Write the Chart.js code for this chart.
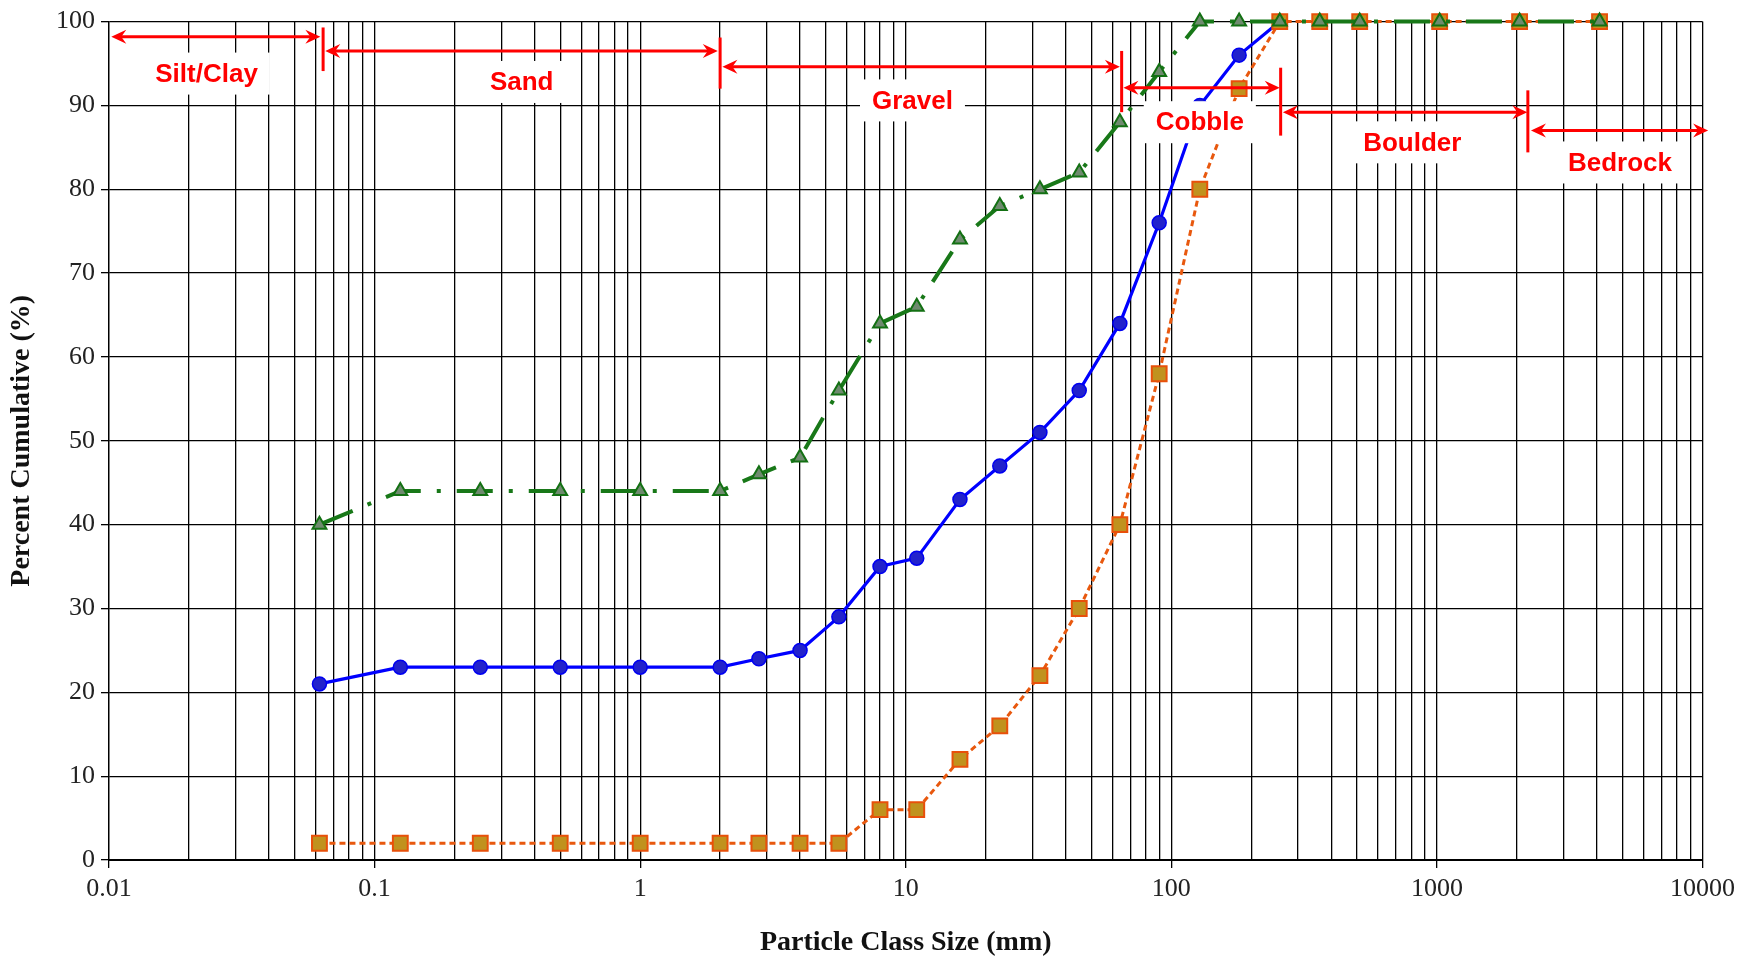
<!DOCTYPE html>
<html>
<head>
<meta charset="utf-8">
<script src="https://cdn.jsdelivr.net/npm/chart.js@4.4.1/dist/chart.umd.min.js"></script>
<style>
  html, body { margin: 0; padding: 0; background: #ffffff; }
  canvas { display: block; }
</style>
</head>
<body>
<canvas id="grain" width="1741" height="960"></canvas>
<script>
// Sieve class sizes (mm) and cumulative percent finer for each survey
const sizesMm = [0.062, 0.125, 0.25, 0.5, 1, 2, 2.8, 4, 5.6, 8, 11, 16, 22.6, 32, 45, 64, 90, 128, 180, 256, 362, 512, 1024, 2048, 4096];
const blueSeries   = [21, 23, 23, 23, 23, 23, 24, 25, 29, 35, 36, 43, 47, 51, 56, 64, 76, 90, 96, 100];
const greenSeries  = [40, 44, 44, 44, 44, 44, 46, 48, 56, 64, 66, 74, 78, 80, 82, 88, 94, 100, 100, 100, 100, 100, 100, 100, 100];
const orangeSeries = [2, 2, 2, 2, 2, 2, 2, 2, 2, 6, 6, 12, 16, 22, 30, 40, 58, 80, 92, 100, 100, 100, 100, 100, 100];

// Axis ticks
const xDecades = [0.01, 0.1, 1, 10, 100, 1000, 10000];
const xTickLabels = ['0.01', '0.1', '1', '10', '100', '1000', '10000'];
const yTickLabels = ['0', '10', '20', '30', '40', '50', '60', '70', '80', '90', '100'];

// Particle size classes: label anchor, arrow span and class boundaries (data units)
const classNames     = ['Silt/Clay', 'Sand', 'Gravel', 'Cobble', 'Boulder', 'Bedrock'];
const classLabelX    = [0.0233, 0.358, 10.6, 128, 808, 4890];
const classLabelY    = [93.8, 92.8, 90.6, 88.0, 85.6, 83.2];
const classArrowY    = [98.2, 96.5, 94.6, 92.1, 89.2, 87.0];
const classArrowFrom = [0.0102, 0.0652, 2.04, 66, 263, 2260];
const classArrowTo   = [0.0625, 1.96, 64, 256, 2190, 10500];
const boundaryX      = [0.064, 2.0, 65, 258, 2200];
const boundaryYLow   = [94.1, 92.0, 89.2, 86.4, 84.4];
const boundaryYHigh  = [99.3, 98.1, 96.5, 94.5, 91.8];

// Grid positions 1..9 x 10^n across the log axis
const gridValues = [];
for (let e = -2; e <= 3; e++) {
  for (let m = 1; m <= 9; m++) gridValues.push(Number((m * Math.pow(10, e)).toPrecision(6)));
}
gridValues.push(10000);

function decadeIndex(v) {
  return xDecades.findIndex(d => Math.abs(v - d) / d < 1e-6);
}

function toPoints(values) {
  return values.map((y, i) => ({ x: sizesMm[i], y }));
}

const RED = '#ff0000';

const sizeClassPlugin = {
  id: 'sizeClasses',
  afterDatasetsDraw(chart) {
    const { ctx, scales: { x: xs, y: ys } } = chart;
    ctx.save();

    // class labels on white plates
    ctx.font = 'bold 26px "Liberation Sans", Arial, sans-serif';
    ctx.textAlign = 'center';
    ctx.textBaseline = 'middle';
    classNames.forEach((name, i) => {
      const cx = xs.getPixelForValue(classLabelX[i]);
      const cy = ys.getPixelForValue(classLabelY[i]);
      const w = ctx.measureText(name).width + 24;
      const h = 42;
      ctx.fillStyle = '#ffffff';
      ctx.fillRect(cx - w / 2, cy - h / 2, w, h);
      ctx.fillStyle = RED;
      ctx.fillText(name, cx, cy + 1);
    });

    // double-headed arrows
    ctx.strokeStyle = RED;
    ctx.fillStyle = RED;
    ctx.lineWidth = 3;
    const head = (x, y, dir) => {
      const L = 15, W = 7, N = 5;
      ctx.beginPath();
      ctx.moveTo(x, y);
      ctx.lineTo(x - dir * L, y - W);
      ctx.lineTo(x - dir * (L - N), y);
      ctx.lineTo(x - dir * L, y + W);
      ctx.closePath();
      ctx.fill();
    };
    classNames.forEach((name, i) => {
      const x1 = xs.getPixelForValue(classArrowFrom[i]);
      const x2 = xs.getPixelForValue(classArrowTo[i]);
      const y = ys.getPixelForValue(classArrowY[i]);
      ctx.beginPath();
      ctx.moveTo(x1 + 8, y);
      ctx.lineTo(x2 - 8, y);
      ctx.stroke();
      head(x1, y, -1);
      head(x2, y, 1);
    });

    // class boundary bars
    boundaryX.forEach((bx, i) => {
      const px = xs.getPixelForValue(bx);
      ctx.beginPath();
      ctx.moveTo(px, ys.getPixelForValue(boundaryYLow[i]));
      ctx.lineTo(px, ys.getPixelForValue(boundaryYHigh[i]));
      ctx.stroke();
    });

    ctx.restore();
  }
};

const serif = '"Liberation Serif", "DejaVu Serif", "Times New Roman", serif';

new Chart(document.getElementById('grain'), {
  type: 'line',
  data: {
    datasets: [
      {
        label: 'Survey A',
        data: toPoints(greenSeries),
        borderColor: '#187818',
        borderWidth: 4,
        borderDash: [36, 16, 4, 16],
        pointStyle: 'triangle',
        pointRadius: 8,
        pointBackgroundColor: '#6f8a6f',
        pointBorderColor: '#137013',
        pointBorderWidth: 2,
        tension: 0,
        clip: false,
        order: 0
      },
      {
        label: 'Survey B',
        data: toPoints(orangeSeries),
        borderColor: '#e8580e',
        borderWidth: 3,
        borderDash: [6, 4],
        pointStyle: 'rect',
        pointRadius: 10.5,
        pointBackgroundColor: '#c0921e',
        pointBorderColor: '#e8500a',
        pointBorderWidth: 2,
        tension: 0,
        clip: false,
        order: 1
      },
      {
        label: 'Survey C',
        data: toPoints(blueSeries),
        borderColor: '#0000ff',
        borderWidth: 3.2,
        pointStyle: 'circle',
        pointRadius: 7,
        pointBackgroundColor: '#2222cc',
        pointBorderColor: '#0000f0',
        pointBorderWidth: 1.5,
        tension: 0,
        clip: false,
        order: 2
      }
    ]
  },
  options: {
    responsive: false,
    animation: false,
    devicePixelRatio: 1,
    layout: { padding: { top: 20, right: 37, bottom: 0, left: 0 } },
    plugins: {
      legend: { display: false },
      tooltip: { enabled: false }
    },
    scales: {
      x: {
        type: 'logarithmic',
        min: 0.01,
        max: 10000,
        afterBuildTicks: scale => {
          scale.ticks = gridValues.map(v => ({ value: v, major: decadeIndex(v) >= 0 }));
        },
        afterFit: scale => { scale.height = 100; },
        ticks: {
          autoSkip: false,
          maxRotation: 0,
          minRotation: 0,
          padding: 6,
          color: '#222222',
          font: { family: serif, size: 26 },
          callback: value => {
            const i = decadeIndex(value);
            return i >= 0 ? xTickLabels[i] : '';
          }
        },
        grid: {
          color: '#000000',
          lineWidth: 1.3,
          tickLength: 8,
          tickColor: ctx => (ctx.tick && decadeIndex(ctx.tick.value) >= 0) ? '#000000' : 'rgba(0,0,0,0)'
        },
        border: { color: '#000000', width: 2 },
        title: {
          display: true,
          text: 'Particle Class Size (mm)',
          color: '#111111',
          font: { family: serif, size: 28, weight: 'bold' },
          padding: { top: 0, bottom: 0 }
        }
      },
      y: {
        type: 'linear',
        min: 0,
        max: 100,
        afterFit: scale => { scale.width = 109; },
        ticks: {
          stepSize: 10,
          padding: 6,
          color: '#222222',
          font: { family: serif, size: 26 },
          callback: value => yTickLabels[Math.round(value / 10)]
        },
        grid: {
          color: '#000000',
          lineWidth: 1.3,
          tickLength: 8,
          tickColor: '#000000'
        },
        border: { color: '#000000', width: 1.3 },
        title: {
          display: true,
          text: 'Percent Cumulative (%)',
          color: '#111111',
          font: { family: serif, size: 28, weight: 'bold' },
          padding: { top: 5, bottom: 0 }
        }
      }
    }
  },
  plugins: [sizeClassPlugin]
});
</script>
</body>
</html>
